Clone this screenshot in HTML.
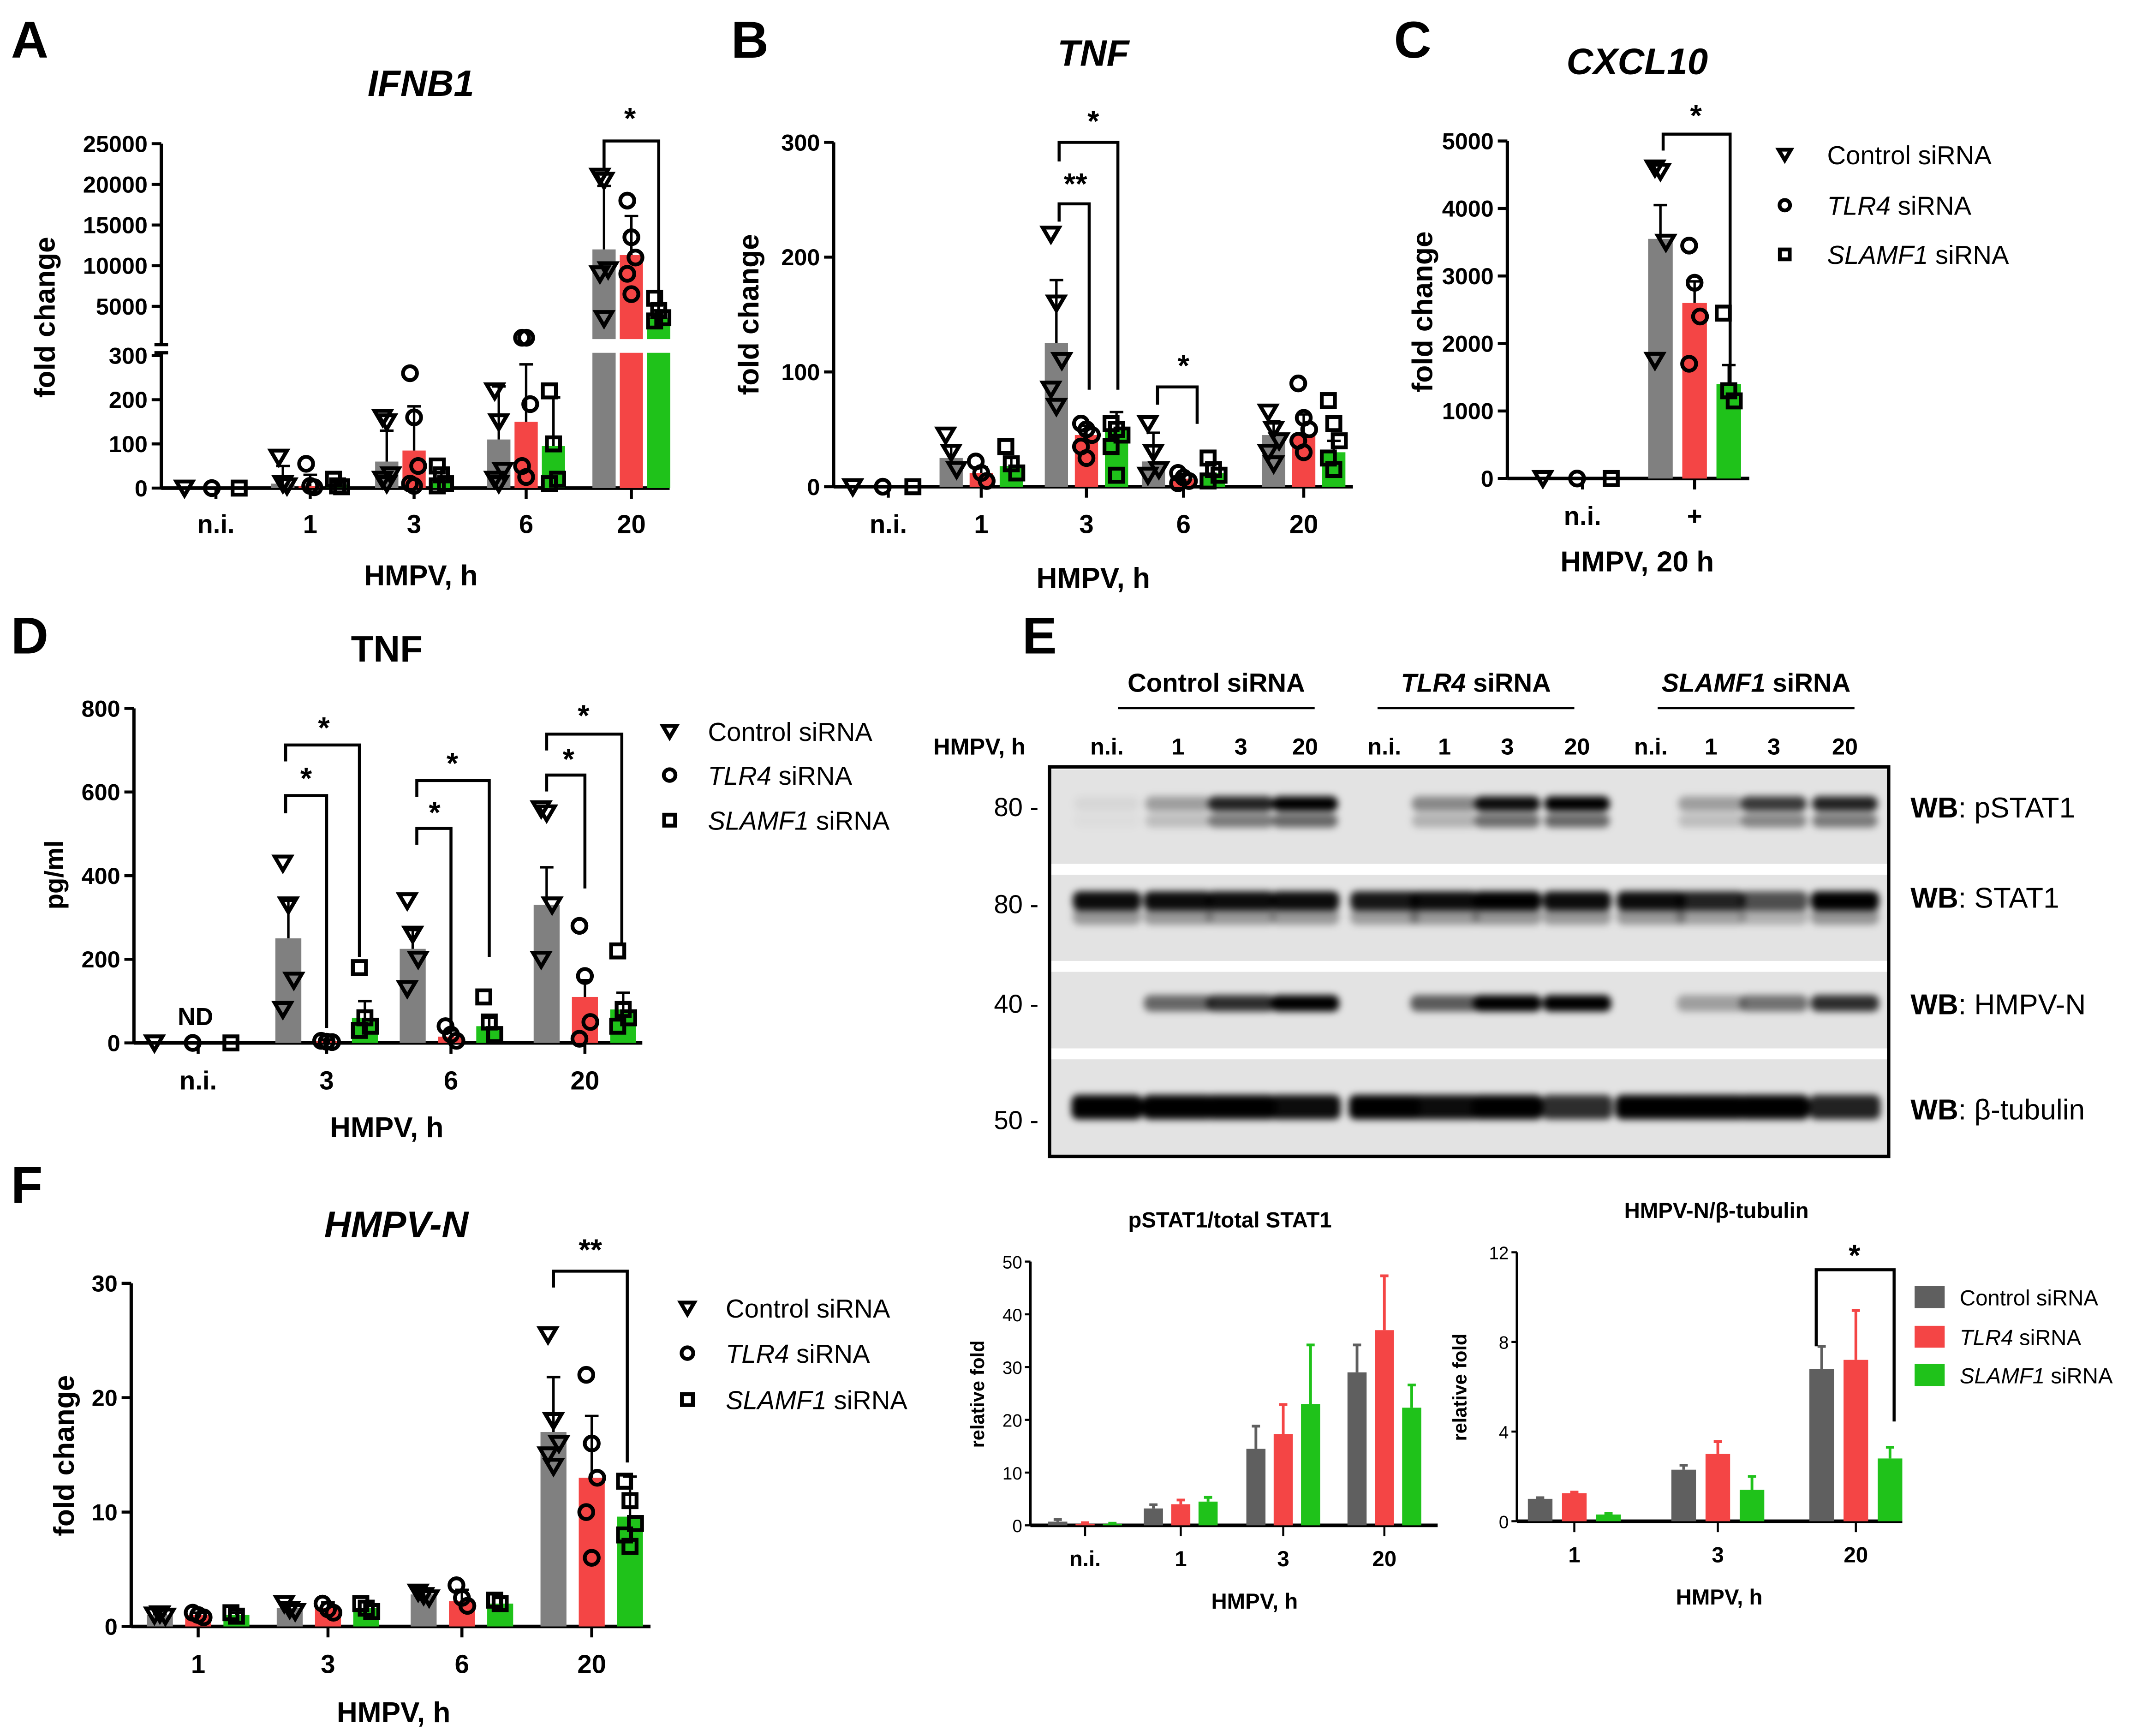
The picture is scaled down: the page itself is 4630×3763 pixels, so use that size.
<!DOCTYPE html>
<html><head><meta charset="utf-8">
<style>
html,body{margin:0;padding:0;background:#fff;}
svg{display:block;font-family:"Liberation Sans",Arial,sans-serif;}
</style></head>
<body>
<svg id="fig" xmlns="http://www.w3.org/2000/svg" width="4630" height="3763" viewBox="0 0 1563 1270">
<rect x="0" y="0" width="1563" height="1270" fill="#fff"/>
<defs>
<filter id="blur" x="-20%" y="-100%" width="140%" height="300%"><feGaussianBlur stdDeviation="2.6"/></filter>
</defs>
<g id="root"></g>
</svg>
<script>
// ---------------- DATA ----------------
const aCats = ["n.i.","1","3","6","20"];
const aMeans = [[0,10,60,110,12000],[0,5,85,150,11300],[0,8,20,95,3600]];
const aErrs = [[0,40,70,120,7800],[0,25,100,130,4800],[0,5,25,110,900]];
const aPts = [
 [[0],[70,10,5],[160,150,30,20,10],[220,150,40,20,10],[21000,20500,9500,9000,3500]],
 [[0],[55,5,2],[260,160,50,10,5],[320,320,190,50,25],[18000,13500,11000,9000,6500]],
 [[0],[20,5,3],[50,30,10,5],[220,100,20,10],[6000,4500,3600,3200]]];
const bCats = ["n.i.","1","3","6","20"];
const bMeans = [[0,25,125,22,45],[0,12,45,7,45],[0,18,50,12,30]];
const bErrs = [[0,10,55,25,12],[0,5,8,4,18],[0,8,15,8,10]];
const bPts = [
 [[0],[45,30,15],[220,160,110,85,70],[55,30,15,10],[65,50,40,30,20]],
 [[0],[22,12,5],[55,50,45,35,25],[12,8,5,3],[90,60,50,40,30]],
 [[0],[35,20,12],[55,50,45,35,10],[25,15,10,5],[75,55,40,25,15]]];
const cCats = ["n.i.","+"];
const cMeans = [[0,3550],[0,2600],[0,1400]];
const cErrs = [[0,500],[0,320],[0,280]];
const cPts = [[[0],[4600,4550,3500,1750]],[[0],[3450,2900,2400,1700]],[[0],[2450,1300,1150]]];
const dCats = ["n.i.","3","6","20"];
const dMeans = [[0,250,225,330],[0,5,15,110],[0,60,40,80]];
const dErrs = [[0,90,45,90],[0,3,15,40],[0,40,20,40]];
const dPts = [
 [[0],[430,330,150,80],[340,260,200,130],[560,550,330,200]],
 [[0],[5,3,2],[40,20,5],[280,160,50,10]],
 [[0],[180,60,40,30],[110,50,20],[220,80,60,40]]];
const fCats = ["1","3","6","20"];
const fMeans = [[1,1.6,2.8,17],[1,1.6,2.2,13],[1,1.6,2,9.6]];
const fErrs = [[0.1,0.5,0.3,4.8],[0.2,0.5,1,5.4],[0.2,0.6,0.5,3.5]];
const fPts = [
 [[1,1.1,0.9],[2,1.5,1.3],[3,2.7,2.5],[25.5,18,16,15,14]],
 [[1.2,1,0.8],[2,1.5,1.2],[3.6,2.5,1.8],[22,16,13,10,6]],
 [[1.2,0.9],[2,1.6,1.3],[2.3,2],[12.7,11,9,8,7]]];
const pCats = ["n.i.","1","3","20"];
const pMeans = [[0.7,3.2,14.5,29],[0.3,4,17.3,37],[0.3,4.5,23,22.3]];
const pErrs = [[0.4,0.7,4.3,5.2],[0.2,0.8,5.6,10.3],[0.1,0.8,11.2,4.3]];
const hCats = ["1","3","20"];
const hMeans = [[1,2.3,6.8],[1.25,3,7.2],[0.3,1.4,2.8]];
const hErrs = [[0.05,0.2,1],[0.05,0.55,2.2],[0.05,0.6,0.5]];
const blotP1 = [0.05,0.3,0.85,1,0,0.4,0.95,1,0,0.3,0.75,0.85];
const blotS1 = [0.95,0.95,0.95,0.95,0.9,0.95,1,0.95,0.95,0.85,0.65,1];
const blotN = [0,0.55,0.8,1,0,0.6,1,1,0,0.3,0.5,0.8];
const blotT = [1,1,1,0.95,1,0.95,1,0.8,1,1,1,0.85];

// ---------------- HELPERS ----------------
const NS="http://www.w3.org/2000/svg";
const root=document.getElementById('root');
function el(tag,attrs,parent){const e=document.createElementNS(NS,tag);for(const k in attrs)e.setAttribute(k,attrs[k]);(parent||root).appendChild(e);return e;}
function txt(x,y,s,size,opts,parent){opts=opts||{};const t=el('text',{x:x,y:y,'font-size':size,'text-anchor':opts.anchor||'middle','font-weight':opts.bold?'bold':'normal','font-style':opts.italic?'italic':'normal',fill:'#000'},parent);if(opts.rot)t.setAttribute('transform','rotate(-90 '+x+' '+y+')');t.textContent=s;return t;}
const COLS=["#808080","#f44545","#1fc21a"];
const SCOLS=["#5f5f5f","#f44545","#1fc21a"];
function marker(g,type,x,y,r){
 if(type===0){el('path',{d:`M${x-r},${y-r*0.8} L${x+r},${y-r*0.8} L${x},${y+r*0.9} Z`,fill:'none',stroke:'#000','stroke-width':2.8},g);}
 else if(type===1){el('circle',{cx:x,cy:y,r:r*0.85,fill:'none',stroke:'#000','stroke-width':2.8},g);}
 else {el('rect',{x:x-r*0.8,y:y-r*0.8,width:r*1.6,height:r*1.6,fill:'none',stroke:'#000','stroke-width':2.8},g);}
}
function bracket(g,x1,x2,yTop,y1b,y2b,label,lx,ly){
 el('path',{d:`M${x1},${y1b} L${x1},${yTop} L${x2},${yTop} L${x2},${y2b}`,fill:'none',stroke:'#000','stroke-width':2.2},g);
 txt(lx,ly,label,22,{bold:true},g);
}

function dotPanel(name,cfg){
 const g=el('g',{});
 
 
 const ax=el('g',{},g);
 
 
 el('line',{x1:cfg.ax,y1:cfg.y(cfg.ymax),x2:cfg.ax,y2:cfg.y(0),stroke:'#000','stroke-width':2.4},ax);
 cfg.ticks.forEach(t=>{const y=cfg.y(t);el('line',{x1:cfg.ax-7,y1:y,x2:cfg.ax,y2:y,stroke:'#000','stroke-width':2.2},ax);txt(cfg.ax-10,y+6,String(t),cfg.tfs||17,{anchor:'end',bold:true},ax);});
 const xa=el('g',{},g);
 
 
 el('line',{x1:cfg.ax,y1:cfg.y(0),x2:cfg.xEnd,y2:cfg.y(0),stroke:'#000','stroke-width':2.6},xa);
 cfg.cats.forEach((c,i)=>{const x=cfg.cx[i];el('line',{x1:x,y1:cfg.y(0),x2:x,y2:cfg.y(0)+8,stroke:'#000','stroke-width':2.2},xa);txt(x,cfg.y(0)+34,c,19,{bold:true},xa);});
 for(let s=0;s<3;s++){
  const sg=el('g',{},g);
  
  
  cfg.cats.forEach((c,i)=>{
   const x=cfg.cx[i]+cfg.off[s];const m=cfg.means[s][i];
   const y0=cfg.y(0),ym=cfg.y(m);
   if(ym<y0-0.5){
    const b=el('rect',{x:x-cfg.bw/2,y:ym,width:cfg.bw,height:y0-ym,fill:COLS[s]},sg);
    
    
   }
   const e=cfg.errs[s][i];
   if(e>0){const ye=cfg.y(m+e);el('path',{d:`M${x},${ym} L${x},${ye} M${x-5},${ye} L${x+5},${ye}`,stroke:'#000','stroke-width':1.8,fill:'none'},sg);}
   cfg.pts[s][i].forEach((v,k)=>{const jx=((k%3)-1)*4;marker(sg,s,x+jx,cfg.y(v),cfg.mr||6);});
  });
 }
 return g;
}

// ---------------- PANEL A ----------------
(function(){
 const yA=v=> v<=300 ? 357-v*0.3233 : Math.min(247,224-(v-5000)*0.00595);
 const g=el('g',{});
 
 
 const ax=118,cx=[158,227,303,385,462],off=[-20,0,20],bw=17;
 el('line',{x1:ax,y1:105,x2:ax,y2:252,stroke:'#000','stroke-width':2.4},g);
 el('line',{x1:ax,y1:258,x2:ax,y2:357,stroke:'#000','stroke-width':2.4},g);
 el('line',{x1:ax-5,y1:252,x2:ax+5,y2:252,stroke:'#000','stroke-width':2.4},g);
 el('line',{x1:ax-5,y1:258,x2:ax+5,y2:258,stroke:'#000','stroke-width':2.4},g);
 [0,100,200,300,5000,10000,15000,20000,25000].forEach(t=>{const y=t<=300?357-t*0.3233:224-(t-5000)*0.00595;el('line',{x1:ax-7,y1:y,x2:ax,y2:y,stroke:'#000','stroke-width':2.2},g);txt(ax-10,y+6,String(t),17,{anchor:'end',bold:true},g);});
 el('line',{x1:ax,y1:357,x2:490,y2:357,stroke:'#000','stroke-width':2.6},g);
 aCats.forEach((c,i)=>{el('line',{x1:cx[i],y1:357,x2:cx[i],y2:365,stroke:'#000','stroke-width':2.2},g);txt(cx[i],390,c,19,{bold:true},g);});
 for(let s=0;s<3;s++){
  const sg=el('g',{},g);
  
  
  aCats.forEach((c,i)=>{
   const x=cx[i]+off[s],m=aMeans[s][i],ym=yA(m);
   if(m>0){
    const b=el('rect',{x:x-bw/2,y:ym,width:bw,height:357-ym,fill:COLS[s]},sg);
    
    
    if(m>300) el('rect',{x:x-bw/2-1,y:248,width:bw+2,height:10,fill:'#fff'},sg);
   }
   const e=aErrs[s][i];if(e>0){const ye=yA(m+e);el('path',{d:`M${x},${ym} L${x},${ye} M${x-5},${ye} L${x+5},${ye}`,stroke:'#000','stroke-width':1.8,fill:'none'},sg);}
   aPts[s][i].forEach((v,k)=>marker(sg,s,x+((k%3)-1)*3,yA(v),6));
  });
 }
 bracket(g,442,482,103,125,240,'*',461,94);
 txt(308,70,'IFNB1',27,{bold:true,italic:true},g);
 txt(308,428,'HMPV, h',21,{bold:true},g);
 txt(40,232,'fold change',21,{bold:true,rot:true},g);
 txt(8,42,'A',38,{bold:true,anchor:'start'},g);
})();

// ---------------- PANEL B ----------------
(function(){
 const g=dotPanel('panel-b-tnf',{ax:610,xEnd:990,y:v=>356-v*0.84,ymax:300,ticks:[0,100,200,300],cats:bCats,cx:[650,718,795,866,954],off:[-22,0,22],bw:17,means:bMeans,errs:bErrs,pts:bPts});
 bracket(g,775,818,104,118,285,'*',800,96);
 bracket(g,775,797,149,162,285,'**',787,142);
 bracket(g,847,876,283,296,310,'*',866,275);
 txt(800,48,'TNF',27,{bold:true,italic:true},g);
 txt(800,430,'HMPV, h',21,{bold:true},g);
 txt(555,230,'fold change',21,{bold:true,rot:true},g);
 txt(535,42,'B',38,{bold:true,anchor:'start'},g);
})();

// ---------------- PANEL C ----------------
(function(){
 const g=dotPanel('panel-c-cxcl10',{ax:1103,xEnd:1280,y:v=>350-v*0.0494,ymax:5000,ticks:[0,1000,2000,3000,4000,5000],cats:cCats,cx:[1158,1240],off:[-25,0,25],bw:18,means:cMeans,errs:cErrs,pts:cPts});
 bracket(g,1217,1266,98,110,282,'*',1241,92);
 txt(1198,54,'CXCL10',27,{bold:true,italic:true},g);
 txt(1198,418,'HMPV, 20 h',21,{bold:true},g);
 txt(1048,228,'fold change',21,{bold:true,rot:true},g);
 txt(1020,42,'C',38,{bold:true,anchor:'start'},g);
 const lg=el('g',{},g);
 
 
 const labs=[['Control siRNA',''],['TLR4',' siRNA'],['SLAMF1',' siRNA']];
 [113,150,186].forEach((y,i)=>{marker(lg,i,1306,y,4.5);const t=txt(1337,y+7,'',19,{anchor:'start'},lg);if(i===0){t.textContent=labs[0][0];}else{const a=el('tspan',{'font-style':'italic'},t);a.textContent=labs[i][0];const b=el('tspan',{},t);b.textContent=labs[i][1];}});
})();

// ---------------- PANEL D ----------------
(function(){
 const g=dotPanel('panel-d-tnf-protein',{ax:98,xEnd:470,y:v=>763-v*0.306,ymax:800,ticks:[0,200,400,600,800],cats:dCats,cx:[145,239,330,428],off:[-28,0,28],bw:19,means:dMeans,errs:dErrs,pts:dPts});
 bracket(g,209,263,545,557,700,'*',237,540);
 bracket(g,209,239,582,595,752,'*',224,577);
 bracket(g,305,358,571,583,700,'*',331,566);
 bracket(g,305,330,606,618,752,'*',318,602);
 bracket(g,400,455,537,549,690,'*',427,531);
 bracket(g,400,428,567,579,650,'*',416,563);
 txt(143,750,'ND',18,{bold:true},g);
 txt(283,484,'TNF',27,{bold:true},g);
 txt(283,832,'HMPV, h',21,{bold:true},g);
 txt(46,640,'pg/ml',19,{bold:true,rot:true},g);
 txt(8,478,'D',38,{bold:true,anchor:'start'},g);
 const lg=el('g',{},g);
 
 
 const labs=[['Control siRNA',''],['TLR4',' siRNA'],['SLAMF1',' siRNA']];
 [535,567,600].forEach((y,i)=>{marker(lg,i,490,y,5);const t=txt(518,y+7,'',19,{anchor:'start'},lg);if(i===0){t.textContent=labs[0][0];}else{const a=el('tspan',{'font-style':'italic'},t);a.textContent=labs[i][0];const b=el('tspan',{},t);b.textContent=labs[i][1];}});
})();

// ---------------- PANEL F ----------------
(function(){
 const g=dotPanel('panel-f-hmpv-n',{ax:96,xEnd:476,y:v=>1190-v*8.37,ymax:30,ticks:[0,10,20,30],cats:fCats,cx:[145,240,338,433],off:[-28,0,28],bw:19,means:fMeans,errs:fErrs,pts:fPts});
 bracket(g,405,459,930,942,1070,'**',432,922);
 txt(290,905,'HMPV-N',27,{bold:true,italic:true},g);
 txt(288,1260,'HMPV, h',21,{bold:true},g);
 txt(54,1065,'fold change',21,{bold:true,rot:true},g);
 txt(8,880,'F',38,{bold:true,anchor:'start'},g);
 const lg=el('g',{},g);
 
 
 const labs=[['Control siRNA',''],['TLR4',' siRNA'],['SLAMF1',' siRNA']];
 [957,990,1024].forEach((y,i)=>{marker(lg,i,503,y,5);const t=txt(531,y+7,'',19,{anchor:'start'},lg);if(i===0){t.textContent=labs[0][0];}else{const a=el('tspan',{'font-style':'italic'},t);a.textContent=labs[i][0];const b=el('tspan',{},t);b.textContent=labs[i][1];}});
})();

// ---------------- PANEL E (blot) ----------------
(function(){
 const g=el('g',{});
 
 
 txt(748,478,'E',38,{bold:true,anchor:'start'},g);
 const lanes=[810,862,908,955,1013,1057,1103,1154,1208,1252,1298,1350];
 const lanel=['n.i.','1','3','20','n.i.','1','3','20','n.i.','1','3','20'];
 const hdr=[[890,'Control',''],[1080,'TLR4',' siRNA'],[1285,'SLAMF1',' siRNA']];
 hdr.forEach((h,i)=>{const t=txt(h[0],506,'',19,{bold:true},g);if(i===0)t.textContent='Control siRNA';else{const a=el('tspan',{'font-style':'italic'},t);a.textContent=h[1];const b=el('tspan',{},t);b.textContent=h[2];}
  el('line',{x1:h[0]-72,y1:518,x2:h[0]+72,y2:518,stroke:'#000','stroke-width':1.6},g);});
 txt(683,552,'HMPV, h',17,{bold:true,anchor:'start'},g);
 lanes.forEach((x,i)=>txt(x,552,lanel[i],17,{bold:true},g));
 const rows=[[563,632],[640,703],[711,767],[775,845]];
 rows.forEach(r=>el('rect',{x:769,y:r[0],width:612,height:r[1]-r[0],fill:'#e3e3e3'},g));
 el('rect',{x:768,y:561,width:614,height:285,fill:'none',stroke:'#000','stroke-width':2.5},g);
 function bands(arr,y,h,w,name,op2,y2){
  const bg=el('g',{filter:'url(#blur)'},g);
  
  
  arr.forEach((v,i)=>{if(v<=0.02)return;el('rect',{x:lanes[i]-w/2,y:y-h/2,width:w,height:h,rx:5,fill:'#000','fill-opacity':Math.min(1,v)},bg);
   if(op2)el('rect',{x:lanes[i]-w/2,y:y2-h/2,width:w,height:h*0.9,rx:5,fill:'#000','fill-opacity':v*op2},bg);});
 }
 bands(blotP1,588,11,48,'bands-pstat1',0.55,601);
 bands(blotS1,659,14,50,'bands-stat1',0.35,671);
 bands(blotN,734,12,50,'bands-hmpv-n');
 bands(blotT,810,18,52,'bands-beta-tubulin');
 [[80,597],[80,668],[40,741],[50,826]].forEach(m=>txt(760,m[1],m[0]+' -',19,{anchor:'end'},g));
 [['WB',': pSTAT1',598],['WB',': STAT1',664],['WB',': HMPV-N',742],['WB',': β-tubulin',819]].forEach(m=>{const t=txt(1398,m[2],'',21,{anchor:'start'},g);const a=el('tspan',{'font-weight':'bold'},t);a.textContent=m[0];const b=el('tspan',{},t);b.textContent=m[1];});
})();

// ---------------- SMALL BAR CHARTS ----------------
function smallChart(name,cfg){
 const g=el('g',{});
 
 
 el('line',{x1:cfg.ax,y1:cfg.y(cfg.ymax),x2:cfg.ax,y2:cfg.y(0),stroke:'#000','stroke-width':1.8},g);
 cfg.ticks.forEach(t=>{const y=cfg.y(t);el('line',{x1:cfg.ax-4,y1:y,x2:cfg.ax,y2:y,stroke:'#000','stroke-width':1.5},g);txt(cfg.ax-6,y+5,String(t),13,{anchor:'end'},g);});
 el('line',{x1:cfg.ax,y1:cfg.y(0),x2:cfg.xEnd,y2:cfg.y(0),stroke:'#000','stroke-width':2.6},g);
 cfg.cats.forEach((c,i)=>{el('line',{x1:cfg.cx[i],y1:cfg.y(0),x2:cfg.cx[i],y2:cfg.y(0)+8,stroke:'#000','stroke-width':1.5},g);txt(cfg.cx[i],cfg.y(0)+30,c,16,{bold:true},g);});
 for(let s=0;s<3;s++){
  const sg=el('g',{},g);
  
  
  cfg.cats.forEach((c,i)=>{const x=cfg.cx[i]+cfg.off[s],m=cfg.means[s][i],ym=cfg.y(m),y0=cfg.y(0);
   const b=el('rect',{x:x-cfg.bw/2,y:ym,width:cfg.bw,height:y0-ym,fill:SCOLS[s]},sg);
   
   
   const ye=cfg.y(m+cfg.errs[s][i]);
   el('path',{d:`M${x},${ym} L${x},${ye} M${x-3},${ye} L${x+3},${ye}`,stroke:SCOLS[s],'stroke-width':2,fill:'none'},sg);});
 }
 return g;
}
(function(){
 const g=smallChart('chart-pstat1-ratio',{ax:754,xEnd:1052,y:v=>1116-v*3.86,ymax:50,ticks:[0,10,20,30,40,50],cats:pCats,cx:[794,864,939,1013],off:[-20,0,20],bw:14,means:pMeans,errs:pErrs});
 txt(900,898,'pSTAT1/total STAT1',16,{bold:true},g);
 txt(918,1177,'HMPV, h',16,{bold:true},g);
 txt(720,1020,'relative fold',14,{bold:true,rot:true},g);
})();
(function(){
 const g=smallChart('chart-hmpv-n-ratio',{ax:1110,xEnd:1392,y:v=>1113-v*16.4,ymax:12,ticks:[0,4,8,12],cats:hCats,cx:[1152,1257,1358],off:[-25,0,25],bw:18,means:hMeans,errs:hErrs});
 bracket(g,1329,1386,929,985,1040,'*',1357,926);
 txt(1256,891,'HMPV-N/β-tubulin',16,{bold:true},g);
 txt(1258,1174,'HMPV, h',16,{bold:true},g);
 txt(1073,1015,'relative fold',14,{bold:true,rot:true},g);
 const lg=el('g',{},g);
 
 
 const labs=[['Control siRNA',''],['TLR4',' siRNA'],['SLAMF1',' siRNA']];
 [949,978,1006].forEach((y,i)=>{el('rect',{x:1401,y:y-8,width:22,height:16,fill:SCOLS[i]},lg);const t=txt(1434,y+6,'',16,{anchor:'start'},lg);if(i===0)t.textContent=labs[0][0];else{const a=el('tspan',{'font-style':'italic'},t);a.textContent=labs[i][0];const b=el('tspan',{},t);b.textContent=labs[i][1];}});
})();
</script>
</body></html>
